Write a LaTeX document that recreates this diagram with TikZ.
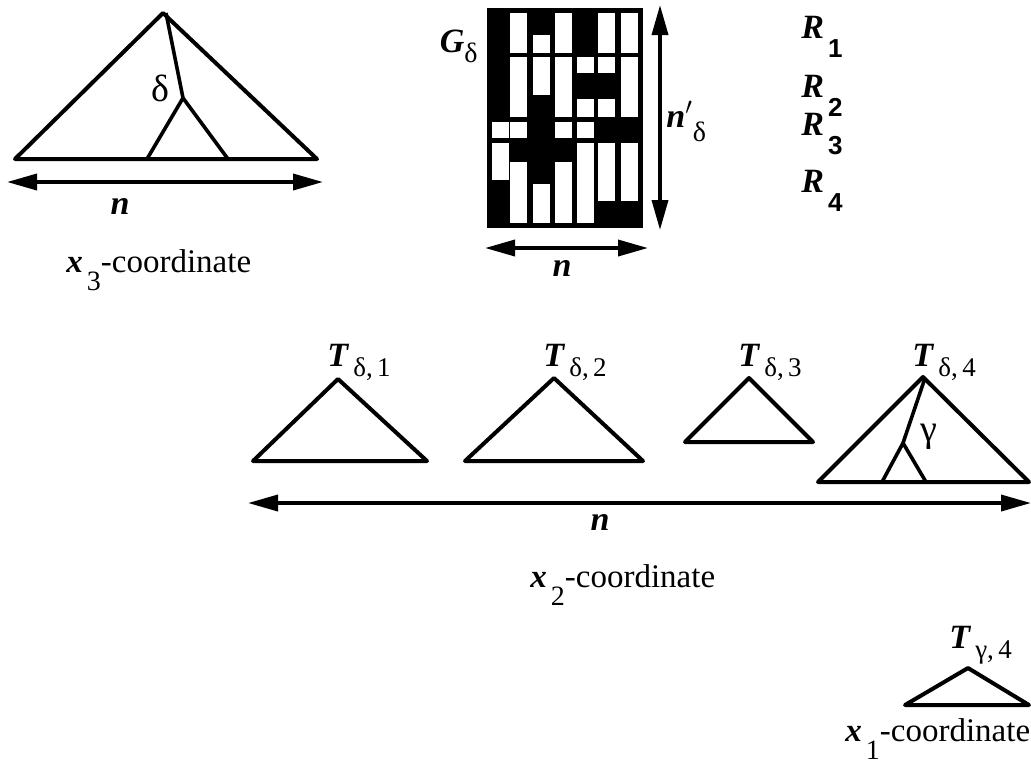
\documentclass[tikz,border=0pt]{standalone}
\usepackage{fontspec}
\setmainfont{Liberation Serif}
\newfontfamily\digitfont{Liberation Sans}
\usepackage{tikz}
\usetikzlibrary{arrows.meta, positioning, calc}
\tikzset{
  tri/.style    = {draw, line width=2pt, line join=round},
  branch/.style = {draw, line width=1.8pt, line join=round},
  dim/.style    = {{Triangle[length=15pt,width=8pt]}-{Triangle[length=15pt,width=8pt]},
                   line width=1.8pt},
  lbl/.style    = {font=\fontsize{17}{20}\selectfont, inner sep=0pt},
  clbl/.style   = {font=\fontsize{16.5}{19}\selectfont, inner sep=0pt, anchor=base west},
}
\newcommand{\bi}[1]{\textbf{\textit{#1}}}
\newcommand{\Rlab}[1]{\bi{R}\hspace{2pt}\raisebox{-9.5pt}{\digitfont\bfseries\fontsize{13}{15}\selectfont #1}}
\newcommand{\xlab}[1]{\bi{x}\hspace{2pt}\raisebox{-9pt}{\fontsize{14}{16}\selectfont #1}-coordinate}
\newcommand{\Tlab}[2]{\bi{T}\hspace{2pt}\raisebox{-5pt}{\fontsize{13.5}{15}\selectfont #1,\,#2}}

\begin{document}
\begin{tikzpicture}[x=0.5pt, y=-0.5pt]
    \useasboundingbox (0,0) rectangle (1031,768);

    % x3 tree
    \draw[tri] (163,13) -- (15,159) -- (317,159) -- cycle;
    \coordinate (split) at (183,98);
    \draw[branch] (166,13) -- (split);
    \draw[branch] (147,159) -- (split) -- (228,159);
    \node[lbl, font=\fontsize{19}{22}\selectfont] (delta) at (160,88) {δ};
    \coordinate (nl) at (7,182);
    \coordinate (nr) at (323,182);
    \draw[dim] (nl) -- (nr);
    \node[lbl] (n3) at (120,206) {\bi{n}};
    \node[clbl] (x3) at (66,272) {\xlab{3}};

    % G_delta
    \fill (487,8) rectangle (643,228);
    \foreach \cx/\ya/\yb in {492/122/138, 492/143/180,
        510/13/53, 510/57/117, 510/122/138, 510/162/223,
        533/35/53, 533/57/95, 533/184/223,
        555/13/53, 555/57/117, 555/122/138, 555/162/223,
        577/57/73, 577/99/117, 577/122/138, 577/143/223,
        598/13/53, 598/57/73, 598/99/117, 598/143/201,
        621/13/53, 621/57/117, 621/143/201}
      \fill[white] (\cx,\ya) rectangle (\cx+17,\yb);
    \node[lbl, anchor=base east] (G) at (478,52)
      {\bi{G}\raisebox{-5pt}{\fontsize{14}{16}\selectfont δ}};
    \coordinate (vt) at (660,5);
    \coordinate (vb) at (660,230);
    \draw[dim] (vt) -- (vb);
    \node[lbl, anchor=base west] (nprime) at (666,127)
      {\bi{n}$'$\raisebox{-7pt}{\fontsize{14}{16}\selectfont δ}};
    \coordinate (hl) at (485,248);
    \coordinate (hr) at (648,248);
    \draw[dim] (hl) -- (hr);
    \node[lbl] (nG) at (562,268) {\bi{n}};

    \node[lbl, anchor=base west] (R1) at (801,38)  {\Rlab{1}};
    \node[lbl, anchor=base west] (R2) at (801,97)  {\Rlab{2}};
    \node[lbl, anchor=base west] (R3) at (801,135) {\Rlab{3}};
    \node[lbl, anchor=base west] (R4) at (801,192) {\Rlab{4}};

    % x2 trees
    \draw[tri] (338,379) -- (253,461) -- (427,461) -- cycle;
    \draw[tri] (554,378) -- (465,461) -- (643,461) -- cycle;
    \draw[tri] (749,378) -- (685,442) -- (813,442) -- cycle;
    \draw[tri] (923,377) -- (818,482) -- (1029,482) -- cycle;
    \coordinate (gsplit) at (903,443);
    \draw[branch] (925,378) -- (gsplit);
    \draw[branch] (882,482) -- (gsplit) -- (926,482);
    \node[lbl, font=\fontsize{19}{22}\selectfont] (gamma) at (929,437) {γ};
    \node[lbl, anchor=base west] (T1) at (327,366) {\Tlab{δ}{1}};
    \node[lbl, anchor=base west] (T2) at (543,366) {\Tlab{δ}{2}};
    \node[lbl, anchor=base west] (T3) at (738,366) {\Tlab{δ}{3}};
    \node[lbl, anchor=base west] (T4) at (912,366) {\Tlab{δ}{4}};
    \coordinate (bl) at (248,503);
    \coordinate (br) at (1031,503);
    \draw[dim] (bl) -- (br);
    \node[lbl] (n2) at (600,522) {\bi{n}};
    \node[clbl] (x2) at (530,587) {\xlab{2}};

    % x1 tree
    \draw[tri] (968,668) -- (905,705) -- (1029,705) -- cycle;
    \node[lbl, anchor=base west] (Tg) at (949,648) {\Tlab{γ}{4}};
    \node[clbl] (x1) at (845,741) {\xlab{1}};
\end{tikzpicture}
\end{document}
